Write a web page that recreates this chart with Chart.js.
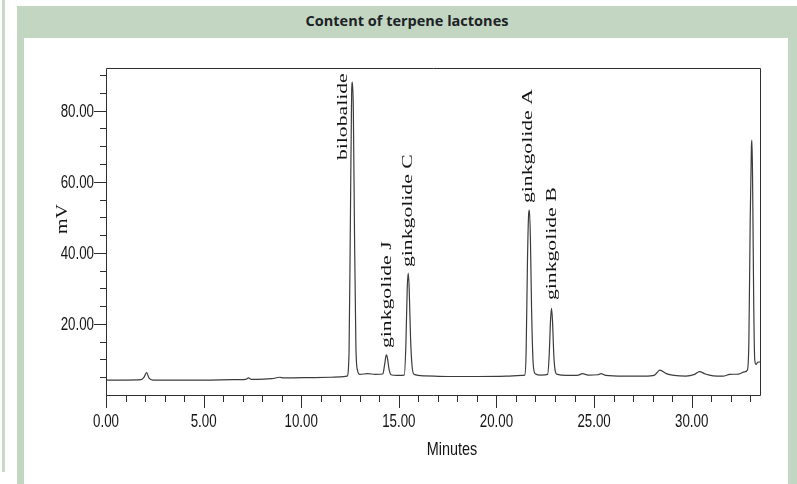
<!DOCTYPE html>
<html>
<head>
<meta charset="utf-8">
<script src="https://cdn.jsdelivr.net/npm/chart.js@4"></script>
<style>
html,body{margin:0;padding:0;background:#fff;width:797px;height:484px;overflow:hidden;}
#strip{position:absolute;left:2px;top:0;width:3px;height:472px;background:#c9dac8;}
#panel{position:absolute;left:17px;top:6px;width:780px;height:478px;background:#c3d6c2;}
#title{position:absolute;left:17px;top:6px;width:780px;height:32px;line-height:30px;text-align:center;font-weight:bold;font-size:14.5px;font-family:'Open Sans',sans-serif;color:#1c2226;}
#inner{position:absolute;left:24px;top:38px;width:764px;height:446px;background:#fff;}
#c{position:absolute;left:24px;top:38px;}
</style>
</head>
<body>
<div id="strip"></div>
<div id="panel"></div>
<div id="title">Content of terpene lactones</div>
<div id="inner"></div>
<canvas id="c" width="764" height="446"></canvas>
<script>
// Chromatogram trace (time in minutes, signal in mV)
const minutes = [
  0, 1.0, 1.8, 1.95, 2.08, 2.2, 2.4, 3.5, 5.0, 6.5, 7.15, 7.3, 7.45, 8.5, 8.9, 9.1, 10.5, 11.5, 12.0, 12.35,
  12.45, 12.52, 12.58, 12.62, 12.67, 12.73, 12.8, 12.88, 13.0, 13.4, 13.8, 14.18,
  14.27, 14.34, 14.37, 14.42, 14.5, 14.6, 14.9, 15.28,
  15.36, 15.43, 15.48, 15.53, 15.6, 15.68, 15.78, 16.3, 17.5, 19.0, 20.5, 21.3, 21.45,
  21.52, 21.59, 21.65, 21.69, 21.74, 21.8, 21.88, 21.98, 22.3, 22.62,
  22.7, 22.77, 22.82, 22.87, 22.94, 23.02, 23.12, 23.6, 24.2, 24.4, 24.7, 25.2, 25.35, 25.6, 26.5, 27.6, 28.1,
  28.37, 28.7, 29.1, 29.7, 30.15, 30.4, 30.7, 31.1, 31.6, 31.95, 32.4, 32.7, 32.85,
  32.93, 33.0, 33.06, 33.09, 33.13, 33.18, 33.23, 33.3, 33.38, 33.5
];
const signalMV = [
  4.2, 4.2, 4.3, 5.0, 6.3, 4.8, 4.2, 4.2, 4.2, 4.3, 4.4, 4.8, 4.4, 4.6, 5.0, 4.8, 4.9, 5.0, 5.1, 5.3,
  12, 50, 84, 88, 80, 45, 14, 7, 5.8, 6.0, 5.8, 5.9,
  8.5, 11, 11.3, 10.3, 7.2, 5.7, 5.5, 5.6,
  14, 30, 34.3, 30, 16, 8, 5.8, 5.4, 5.2, 5.2, 5.3, 5.5, 5.6,
  12, 38, 51, 52, 44, 24, 9, 6.0, 5.6, 5.8,
  11, 21, 24.4, 21, 11, 6.5, 5.8, 5.5, 5.6, 6.0, 5.6, 5.7, 6.0, 5.5, 5.3, 5.3, 5.6,
  7.0, 6.0, 5.5, 5.3, 5.8, 6.6, 5.9, 5.4, 5.3, 5.8, 5.9, 6.5, 7.0,
  15, 50, 70, 71.7, 55, 25, 10, 8.6, 9.2, 9.3
];
// Peak annotations
const peakNames = ['bilobalide', 'ginkgolide J', 'ginkgolide C', 'ginkgolide A', 'ginkgolide B'];
const peakLabelMinutes = [12.14, 14.39, 15.51, 21.61, 22.84];
const peakLabelMV = [66.1, 13.2, 36.0, 54.0, 26.7];
// Axis ticks
const xMajorTicks = [0, 5, 10, 15, 20, 25, 30];
const yMajorTicks = [20, 40, 60, 80];
const xTickLabels = ['0.00', '5.00', '10.00', '15.00', '20.00', '25.00', '30.00'];
const yTickLabels = ['20.00', '40.00', '60.00', '80.00'];
const xRange = [0, 33.5];
const yRange = [0, 92];

const points = minutes.map((t, i) => ({ x: t, y: signalMV[i] }));

const sansFamily = "'Liberation Sans', Arial, sans-serif";
const serifFamily = "'Liberation Serif','DejaVu Serif',serif";

function narrowText(ctx, text, x, y, align, squeeze) {
  ctx.save();
  ctx.translate(x, y);
  ctx.scale(squeeze, 1);
  ctx.textAlign = align;
  ctx.fillText(text, 0, 0);
  ctx.restore();
}

const decorPlugin = {
  id: 'decor',
  afterDraw(chart) {
    const ctx = chart.ctx, ca = chart.chartArea, xs = chart.scales.x, ys = chart.scales.y;
    ctx.save();
    ctx.strokeStyle = '#2e2e2e';
    ctx.lineWidth = 1;
    ctx.beginPath();
    ctx.rect(Math.round(ca.left) + 0.5, Math.round(ca.top) + 0.5, Math.round(ca.right - ca.left), Math.round(ca.bottom - ca.top));
    ctx.stroke();
    ctx.beginPath();
    xs.ticks.forEach(t => {
      const px = Math.round(xs.getPixelForValue(t.value)) + 0.5;
      const len = xMajorTicks.includes(t.value) ? 13 : 7;
      ctx.moveTo(px, ca.bottom);
      ctx.lineTo(px, ca.bottom + len);
    });
    ys.ticks.forEach(t => {
      if (t.value <= yRange[0]) return;
      const py = Math.round(ys.getPixelForValue(t.value)) + 0.5;
      const len = yMajorTicks.includes(t.value) ? 12 : 6;
      ctx.moveTo(ca.left - len, py);
      ctx.lineTo(ca.left, py);
    });
    ctx.stroke();

    // tick labels (condensed sans)
    ctx.fillStyle = '#141414';
    ctx.font = "18px " + sansFamily;
    ctx.textBaseline = 'middle';
    xMajorTicks.forEach((v, i) => {
      narrowText(ctx, xTickLabels[i], xs.getPixelForValue(v), ca.bottom + 27, 'center', 0.74);
    });
    yMajorTicks.forEach((v, i) => {
      narrowText(ctx, yTickLabels[i], ca.left - 12, ys.getPixelForValue(v) + 1, 'right', 0.74);
    });

    // axis titles
    ctx.font = "19px " + sansFamily;
    narrowText(ctx, 'Minutes', ca.left + 346, ca.bottom + 55, 'center', 0.76);

    ctx.save();
    ctx.translate(ca.left - 43, ca.top + 151);
    ctx.rotate(-Math.PI / 2);
    ctx.textAlign = 'center';
    ctx.font = "16px " + serifFamily;
    ctx.scale(1.25, 1);
    ctx.fillText('mV', 0, 0);
    ctx.restore();

    // peak labels
    ctx.font = "14px " + serifFamily;
    ctx.textAlign = 'left';
    ctx.textBaseline = 'middle';
    peakNames.forEach((name, i) => {
      const px = xs.getPixelForValue(peakLabelMinutes[i]);
      const py = ys.getPixelForValue(peakLabelMV[i]);
      ctx.save();
      ctx.translate(px, py);
      ctx.rotate(-Math.PI / 2);
      ctx.scale(1.55, 1);
      ctx.fillText(name, 0, 0);
      ctx.restore();
    });
    ctx.restore();
  }
};

new Chart(document.getElementById('c'), {
  type: 'line',
  data: {
    datasets: [{
      data: points,
      borderColor: '#3c3c3c',
      borderWidth: 1.2,
      pointRadius: 0,
      cubicInterpolationMode: 'monotone',
      fill: false
    }]
  },
  options: {
    responsive: false,
    animation: false,
    layout: { padding: { top: 30, right: 28, left: 0, bottom: 0 } },
    plugins: { legend: { display: false }, tooltip: { enabled: false }, title: { display: false } },
    scales: {
      x: {
        type: 'linear',
        min: xRange[0], max: xRange[1],
        grid: { display: false, drawTicks: false },
        border: { display: false },
        ticks: { display: false, stepSize: 1, autoSkip: false, includeBounds: false },
        afterFit: s => { s.height = 89; }
      },
      y: {
        type: 'linear',
        min: yRange[0], max: yRange[1],
        grid: { display: false, drawTicks: false },
        border: { display: false },
        ticks: { display: false, stepSize: 5, autoSkip: false, includeBounds: false },
        afterFit: s => { s.width = 82; }
      }
    }
  },
  plugins: [decorPlugin]
});
</script>
</body>
</html>
